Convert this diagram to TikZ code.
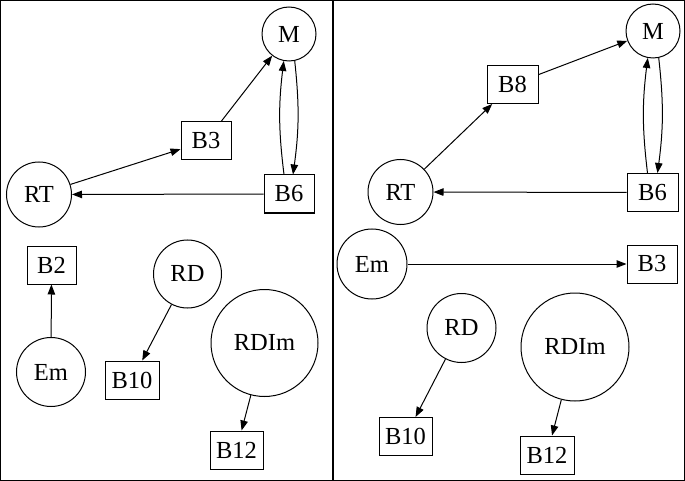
\documentclass[tikz,border=0pt]{standalone}
\usepackage{fontspec}
\setmainfont{Liberation Serif}
\usetikzlibrary{arrows.meta}
\begin{document}
\begin{tikzpicture}[x=1pt,y=-1pt,
  every node/.style={font=\fontsize{24.5}{24.5}\selectfont, inner sep=0pt, line width=1pt},
  circ/.style={draw, circle},
  box/.style={draw, rectangle, minimum height=38pt},
  edge/.style={line width=1pt, -{Triangle[length=10pt,width=7.5pt]}}]
\useasboundingbox (0,0) rectangle (685,481);
\draw[line width=1.2pt] (0.6,0.6) rectangle (684.4,480.4);
\draw[line width=1.2pt] (333,0.6) -- (333,480.4);
% left panel
\node[circ, minimum size=54pt] (lM) at (289,34) {M};
\node[box, minimum width=50pt] (lB3) at (206,141) {B3};
\node[circ, minimum size=65pt] (lRT) at (39,194.5) {RT};
\node[box, minimum width=50pt] (lB6) at (289,194) {B6};
\node[box, minimum width=49pt] (lB2) at (51.5,265) {B2};
\node[circ, minimum size=69pt] (lEm) at (51,372) {Em};
\node[circ, minimum size=68pt] (lRD) at (187.5,274) {RD};
\node[box, minimum width=54pt] (lB10) at (132,380) {B10};
\node[circ, minimum size=107pt] (lRDIm) at (264.5,343) {RDIm};
\node[box, minimum width=53pt] (lB12) at (236.5,450) {B12};
\draw[edge] (lB3) -- (lM);
\draw[edge] (lRT) -- (lB3);
\draw[edge] (lB6) -- (lRT);
\draw[edge] ([xshift=-5pt]lB6.north) to[bend left=7] (lM.259);
\draw[edge] (lM.282) to[bend left=7] ([xshift=4pt]lB6.north);
\draw[edge] (lEm) -- (lB2);
\draw[edge] (lRD) -- (lB10);
\draw[edge] (lRDIm) -- (lB12);
% right panel
\node[circ, minimum size=54pt] (rM) at (653,31) {M};
\node[box, minimum width=51pt] (rB8) at (512.5,84.5) {B8};
\node[circ, minimum size=65pt] (rRT) at (400.5,192) {RT};
\node[box, minimum width=51pt] (rB6) at (652.5,192.5) {B6};
\node[circ, minimum size=70pt] (rEm) at (372,264) {Em};
\node[box, minimum width=50pt] (rB3) at (652,264) {B3};
\node[circ, minimum size=69pt] (rRD) at (461.5,328) {RD};
\node[box, minimum width=53pt] (rB10) at (405.5,436.5) {B10};
\node[circ, minimum size=108pt] (rRDIm) at (575,347) {RDIm};
\node[box, minimum width=54pt] (rB12) at (547,455) {B12};
\draw[edge] (rB8) -- (rM);
\draw[edge] (rRT) -- (rB8);
\draw[edge] (rB6) -- (rRT);
\draw[edge] ([xshift=-5pt]rB6.north) to[bend left=7] (rM.259);
\draw[edge] (rM.282) to[bend left=7] ([xshift=5pt]rB6.north);
\draw[edge] (rEm) -- (rB3);
\draw[edge] (rRD) -- (rB10);
\draw[edge] (rRDIm) -- (rB12);
\end{tikzpicture}
\end{document}
